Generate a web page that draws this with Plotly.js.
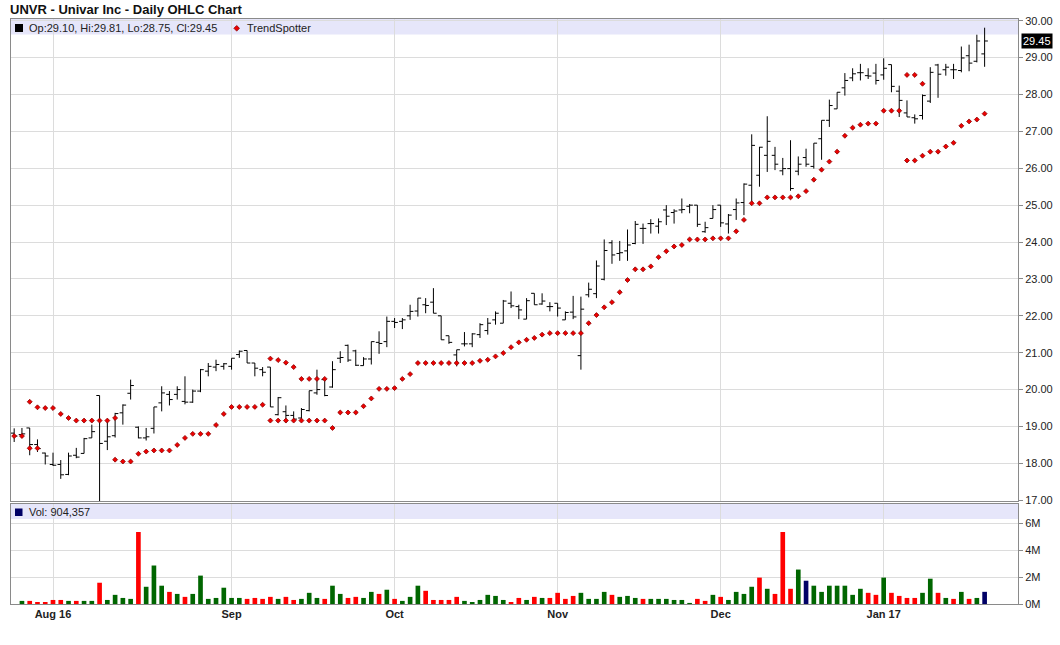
<!DOCTYPE html>
<html>
<head>
<meta charset="utf-8">
<script src="https://cdn.plot.ly/plotly-3.0.1.min.js"></script>
<style>html,body{margin:0;padding:0;background:#fff;}#chart{width:1060px;height:645px;}</style>
</head>
<body>
<div id="chart"></div>
<script>
const dates = [
"2016-07-25","2016-07-26","2016-07-27","2016-07-28","2016-07-29",
"2016-08-01","2016-08-02","2016-08-03","2016-08-04","2016-08-05","2016-08-08","2016-08-09","2016-08-10","2016-08-11","2016-08-12",
"2016-08-15","2016-08-16","2016-08-17","2016-08-18","2016-08-19","2016-08-22","2016-08-23","2016-08-24","2016-08-25","2016-08-26",
"2016-08-29","2016-08-30","2016-08-31",
"2016-09-01","2016-09-02","2016-09-06","2016-09-07","2016-09-08","2016-09-09","2016-09-12","2016-09-13","2016-09-14","2016-09-15",
"2016-09-16","2016-09-19","2016-09-20","2016-09-21","2016-09-22","2016-09-23","2016-09-26","2016-09-27","2016-09-28","2016-09-29","2016-09-30",
"2016-10-03","2016-10-04","2016-10-05","2016-10-06","2016-10-07","2016-10-10","2016-10-11","2016-10-12","2016-10-13","2016-10-14",
"2016-10-17","2016-10-18","2016-10-19","2016-10-20","2016-10-21","2016-10-24","2016-10-25","2016-10-26","2016-10-27","2016-10-28","2016-10-31",
"2016-11-01","2016-11-02","2016-11-03","2016-11-04","2016-11-07","2016-11-08","2016-11-09","2016-11-10","2016-11-11","2016-11-14",
"2016-11-15","2016-11-16","2016-11-17","2016-11-18","2016-11-21","2016-11-22","2016-11-23","2016-11-25","2016-11-28","2016-11-29","2016-11-30",
"2016-12-01","2016-12-02","2016-12-05","2016-12-06","2016-12-07","2016-12-08","2016-12-09","2016-12-12","2016-12-13","2016-12-14",
"2016-12-15","2016-12-16","2016-12-19","2016-12-20","2016-12-21","2016-12-22","2016-12-23","2016-12-27","2016-12-28","2016-12-29","2016-12-30",
"2017-01-03","2017-01-04","2017-01-05","2017-01-06","2017-01-09","2017-01-10","2017-01-11","2017-01-12","2017-01-13","2017-01-17",
"2017-01-18","2017-01-19","2017-01-20","2017-01-23"
];

const openP = [
18.82,18.78,18.96,18.51,18.28,17.97,17.97,17.70,18.22,18.27,18.69,19.84,18.60,18.75,19.37,19.90,18.98,18.69,18.95,19.64,
19.87,19.87,19.68,19.66,19.96,20.50,20.61,20.63,20.63,20.95,21.06,20.72,20.54,20.61,19.32,19.40,19.30,19.23,19.43,19.91,
20.27,20.07,20.85,21.20,21.05,20.65,20.83,21.28,21.30,21.85,21.85,22.00,22.13,22.30,22.37,22.00,21.46,20.94,21.24,21.24,
21.49,21.60,21.89,21.80,22.34,22.25,21.91,22.61,22.32,22.25,22.34,21.89,22.10,20.92,22.57,22.60,22.99,23.98,23.69,23.76,
23.96,24.37,24.50,24.43,24.87,24.80,24.87,24.97,25.00,24.28,24.64,25.00,24.49,24.88,25.07,25.54,25.81,26.35,26.35,25.93,
25.99,25.92,26.29,26.05,26.80,27.30,27.61,28.18,28.45,28.59,28.51,28.58,28.53,28.81,28.09,27.50,27.37,27.43,27.82,28.80,
28.67,28.67,28.65,29.05,28.90,29.10
];
const highP = [
18.95,18.96,18.96,18.65,18.29,18.29,18.09,18.29,18.42,18.69,19.05,19.84,19.19,19.37,19.60,20.27,19.00,18.96,19.53,20.09,
19.96,20.09,20.36,20.00,20.56,20.72,20.81,20.72,20.85,21.06,21.06,20.72,20.61,20.61,19.80,19.57,19.41,19.50,19.97,20.54,
20.32,20.77,21.04,21.22,21.08,20.88,21.30,21.58,21.98,21.94,21.94,22.30,22.48,22.48,22.75,22.00,21.46,21.08,21.56,21.53,
21.80,21.94,22.12,22.43,22.66,22.30,22.48,22.61,22.61,22.37,22.34,22.12,22.54,22.52,22.90,23.50,24.07,24.05,24.03,24.34,
24.57,24.50,24.62,24.64,25.00,24.89,25.18,25.03,25.00,24.55,25.00,25.00,24.76,25.18,25.59,26.92,26.58,27.41,26.58,26.28,
26.76,26.32,26.53,26.68,27.30,27.86,28.06,28.58,28.71,28.83,28.71,28.83,28.98,28.81,28.24,27.84,27.46,28.00,28.74,28.83,
28.83,28.83,29.30,29.35,29.62,29.81
];
const lowP = [
18.58,18.69,18.22,18.31,17.97,17.93,17.58,17.68,18.14,18.27,18.69,16.90,18.36,18.70,19.05,19.73,18.68,18.62,18.81,19.41,
19.57,19.73,19.60,19.64,19.93,20.36,20.50,20.54,20.54,20.86,20.72,20.36,20.36,19.53,19.30,19.10,19.14,19.19,19.41,19.86,
19.82,20.05,20.72,20.75,20.64,20.65,20.68,20.97,21.15,21.67,21.64,21.89,21.98,22.07,22.07,21.35,21.24,20.63,21.17,21.15,
21.40,21.49,21.76,21.80,22.21,21.91,21.91,22.30,22.30,22.12,21.98,21.89,21.91,20.54,22.50,22.48,22.96,23.41,23.49,23.49,
23.94,23.95,24.23,24.23,24.46,24.50,24.78,24.78,24.41,24.25,24.64,24.41,24.23,24.60,24.73,25.05,25.50,25.90,25.95,25.81,
25.39,25.81,26.04,25.99,26.23,27.12,27.61,27.97,28.36,28.38,28.42,28.27,28.40,28.06,27.39,27.39,27.21,27.32,27.77,27.91,
28.51,28.42,28.60,28.63,28.87,28.75
];
const closeP = [
18.74,18.80,18.51,18.40,18.20,17.95,17.69,18.20,18.17,18.67,18.86,18.54,18.72,19.35,19.58,20.11,18.69,18.72,19.53,19.91,
19.73,20.00,19.66,19.96,20.54,20.63,20.68,20.70,20.85,21.04,20.72,20.58,20.47,19.53,19.78,19.30,19.20,19.46,19.97,20.00,
19.84,20.54,20.87,20.80,20.66,20.83,21.30,21.25,21.85,21.82,21.89,22.12,22.48,22.28,22.07,21.35,21.28,21.08,21.24,21.51,
21.76,21.80,22.07,22.40,22.27,22.16,22.41,22.30,22.40,22.25,22.21,22.09,21.97,22.18,22.72,23.35,23.77,23.65,23.71,23.92,
24.48,24.37,24.50,24.55,24.70,24.84,24.88,25.00,24.48,24.39,24.88,24.52,24.73,25.06,25.57,26.62,26.57,26.73,26.11,25.99,
25.45,26.11,26.11,26.68,27.30,27.70,28.06,28.38,28.56,28.59,28.50,28.38,28.71,28.22,27.84,27.39,27.34,27.97,28.60,28.55,
28.74,28.67,28.99,28.85,29.45,29.45
];
const volume = [
null,230000,230000,150000,150000,300000,300000,230000,230000,230000,230000,1580000,300000,680000,450000,380000,5350000,1280000,2860000,1360000,
900000,750000,530000,750000,2110000,380000,450000,1210000,450000,450000,380000,450000,380000,530000,380000,530000,300000,380000,830000,450000,
380000,1360000,750000,450000,530000,450000,900000,750000,1060000,380000,230000,530000,1360000,980000,300000,300000,300000,530000,230000,150000,
300000,680000,600000,300000,150000,450000,300000,530000,450000,450000,830000,380000,600000,830000,380000,380000,900000,680000,530000,600000,
450000,380000,380000,380000,380000,300000,300000,80000,380000,230000,680000,530000,300000,900000,750000,1280000,1960000,1130000,750000,5350000,
1130000,2560000,1730000,1360000,900000,1360000,1360000,1360000,680000,1130000,830000,680000,1960000,830000,600000,450000,450000,830000,1880000,830000,
450000,380000,900000,380000,450000,904357
];
const trendBelow = [
18.74,18.74,18.41,18.41,null,null,null,null,null,null,null,null,null,18.10,18.05,18.05,18.26,18.32,18.35,18.35,
18.35,18.50,18.69,18.80,18.80,18.80,19.04,19.34,19.53,19.53,19.53,19.53,19.59,19.16,19.16,19.16,19.16,19.16,19.16,19.16,
19.16,18.96,19.38,19.38,19.38,19.55,19.76,20.02,20.02,20.04,20.29,20.42,20.72,20.72,20.72,20.72,20.72,20.72,20.72,20.72,
20.78,20.81,20.90,20.99,21.15,21.28,21.35,21.40,21.49,21.53,21.53,21.53,21.53,21.53,21.80,22.02,22.23,22.37,22.64,22.97,
23.26,23.26,23.34,23.59,23.75,23.88,23.92,24.07,24.07,24.07,24.10,24.10,24.10,24.29,24.60,25.05,25.05,25.21,25.21,25.21,
25.21,25.24,25.38,25.69,25.96,26.18,26.45,26.88,27.10,27.18,27.21,27.21,27.56,27.56,27.56,26.21,26.21,26.34,26.45,26.45,
26.59,26.69,27.15,27.27,27.32,27.48
];
const trendAbove = [
null,null,19.67,19.52,19.50,19.50,19.34,19.23,19.16,19.16,19.16,19.16,19.16,19.23,null,null,null,null,null,null,
null,null,null,null,null,null,null,null,null,null,null,null,null,20.84,20.80,20.73,20.61,20.29,20.29,20.29,
20.29,null,null,null,null,null,null,null,null,null,null,null,null,null,null,null,null,null,null,null,
null,null,null,null,null,null,null,null,null,null,null,null,null,null,null,null,null,null,null,null,
null,null,null,null,null,null,null,null,null,null,null,null,null,null,null,null,null,null,null,null,
null,null,null,null,null,null,null,null,null,null,null,null,null,null,null,28.53,28.53,28.29,null,null,
null,null,null,null,null,null
];
const monthTickDates = ["2016-08-01","2016-09-01","2016-10-03","2016-11-01","2016-12-01","2017-01-03"];
const monthTickLabels = ["Aug 16","Sep","Oct","Nov","Dec","Jan 17"];
const volTickVals = [0,2000000,4000000,6000000];
const volTickLabels = ["0M","2M","4M","6M"];
const chartTitle = "UNVR - Univar Inc - Daily OHLC Chart";

const FONT = "'Liberation Sans', Arial, Helvetica, sans-serif";
const GREEN = "#006600", RED = "#ff0000", NAVY = "#000066";

const volColors = closeP.map((c, i) => {
  if (i === 0) return GREEN;
  const d = Math.round((c - closeP[i-1]) * 100);
  return d > 0 ? GREEN : (d < 0 ? RED : NAVY);
});

const last = closeP.length - 1;
const fmt2 = v => v.toFixed(2);
const legendText = "Op:" + fmt2(openP[last]) + ", Hi:" + fmt2(highP[last]) + ", Lo:" + fmt2(lowP[last]) + ", Cl:" + fmt2(closeP[last]);
const volText = "Vol: " + volume[last].toLocaleString("en-US");

// pixel helpers for paper coordinates
const L = 11, R = 42, T = 19, B = 41, W = 1060, H = 645;
const pw = W - L - R, ph = H - T - B;
const px = x => (x - L) / pw;
const py = y => (H - B - y) / ph;

const dotMarker = {symbol: "diamond", size: 3.8, color: "#ee0000", line: {color: "#8b0000", width: 0.8}};

const traces = [
  {
    type: "ohlc", x: dates, open: openP, high: highP, low: lowP, close: closeP,
    xaxis: "x", yaxis: "y",
    increasing: {line: {color: "#000000", width: 1}},
    decreasing: {line: {color: "#000000", width: 1}},
    tickwidth: 0.42, hoverinfo: "skip"
  },
  {
    type: "scatter", mode: "markers", x: dates, y: trendAbove, xaxis: "x", yaxis: "y",
    marker: dotMarker, hoverinfo: "skip"
  },
  {
    type: "scatter", mode: "markers", x: dates, y: trendBelow, xaxis: "x", yaxis: "y",
    marker: dotMarker, hoverinfo: "skip"
  },
  {
    type: "bar", x: dates, y: volume, xaxis: "x", yaxis: "y2",
    marker: {color: volColors, line: {width: 0}}, width: 0.6, hoverinfo: "skip"
  }
];

const dX = px(236.7), dY = py(28.3), ddx = 2.8 / pw, ddy = 2.8 / ph;

const layout = {
  width: W, height: H,
  margin: {l: L, r: R, t: T, b: B, pad: 0},
  paper_bgcolor: "#ffffff", plot_bgcolor: "#ffffff",
  showlegend: false, hovermode: false,
  font: {family: FONT, size: 11, color: "#222"},
  title: {
    text: "<b>" + chartTitle + "</b>",
    x: 10 / W, xanchor: "left", xref: "container",
    y: 1 - 9 / H, yanchor: "middle", yref: "container",
    font: {family: FONT, size: 13, color: "#111"}
  },
  xaxis: {
    type: "category", anchor: "y2",
    range: [-0.41, 129.3],
    rangeslider: {visible: false},
    tickmode: "array", tickvals: monthTickDates, ticktext: monthTickLabels.map(t => "<b>" + t + "</b>"),
    tickfont: {family: FONT, size: 11, color: "#222"},
    ticks: "", showgrid: true, gridcolor: "#dcdcdc", gridwidth: 1,
    showline: true, linecolor: "#8a8a8a", linewidth: 1, mirror: "all",
    zeroline: false, fixedrange: true
  },
  yaxis: {
    domain: [py(501), 1], side: "right",
    range: [16.98, 30.046], dtick: 1, tick0: 17, tickformat: ".2f",
    ticks: "outside", ticklen: 4, tickcolor: "#8a8a8a",
    tickfont: {family: FONT, size: 11, color: "#222"},
    showgrid: true, gridcolor: "#dcdcdc", gridwidth: 1,
    showline: true, linecolor: "#8a8a8a", linewidth: 1, mirror: true,
    zeroline: false, fixedrange: true
  },
  yaxis2: {
    domain: [0, py(504)], side: "right",
    range: [0, 7430000],
    tickmode: "array", tickvals: volTickVals, ticktext: volTickLabels,
    ticks: "outside", ticklen: 4, tickcolor: "#8a8a8a",
    tickfont: {family: FONT, size: 11, color: "#222"},
    showgrid: true, gridcolor: "#dcdcdc", gridwidth: 1,
    showline: true, linecolor: "#8a8a8a", linewidth: 1, mirror: true,
    zeroline: false, fixedrange: true
  },
  shapes: [
    {type: "rect", xref: "paper", yref: "paper", x0: 0, x1: 1, y0: py(34.5), y1: 1,
     fillcolor: "#e6e6fa", line: {width: 0}, layer: "below"},
    {type: "rect", xref: "paper", yref: "paper", x0: 0, x1: 1, y0: py(519), y1: py(504),
     fillcolor: "#e6e6fa", line: {width: 0}, layer: "below"},
    {type: "rect", xref: "paper", yref: "paper", x0: px(15), x1: px(23), y0: py(32), y1: py(24),
     fillcolor: "#000000", line: {width: 0}},
    {type: "rect", xref: "paper", yref: "paper", x0: px(15), x1: px(22.5), y0: py(516), y1: py(508.5),
     fillcolor: NAVY, line: {width: 0}},
    {type: "path", xref: "paper", yref: "paper",
     path: "M" + (dX - ddx) + "," + dY + " L" + dX + "," + (dY + ddy) + " L" + (dX + ddx) + "," + dY + " L" + dX + "," + (dY - ddy) + " Z",
     fillcolor: "#ee0000", line: {color: "#8b0000", width: 0.8}}
  ],
  annotations: [
    {xref: "paper", yref: "paper", x: px(26.5), y: dY, xanchor: "left", yanchor: "middle",
     text: legendText, showarrow: false, font: {family: FONT, size: 11, color: "#222"}},
    {xref: "paper", yref: "paper", x: px(245), y: dY, xanchor: "left", yanchor: "middle",
     text: "TrendSpotter", showarrow: false, font: {family: FONT, size: 11, color: "#222"}},
    {xref: "paper", yref: "paper", x: px(26.5), y: py(512.3), xanchor: "left", yanchor: "middle",
     text: volText, showarrow: false, font: {family: FONT, size: 11, color: "#222"}},
    {xref: "paper", yref: "y", x: 1, y: closeP[last], xanchor: "left", yanchor: "middle", xshift: 3,
     text: fmt2(closeP[last]), showarrow: false, bgcolor: "#000000", borderpad: 1,
     font: {family: FONT, size: 11, color: "#ffffff"}}
  ]
};

Plotly.newPlot("chart", traces, layout, {displayModeBar: false, staticPlot: true});
</script>
</body>
</html>
